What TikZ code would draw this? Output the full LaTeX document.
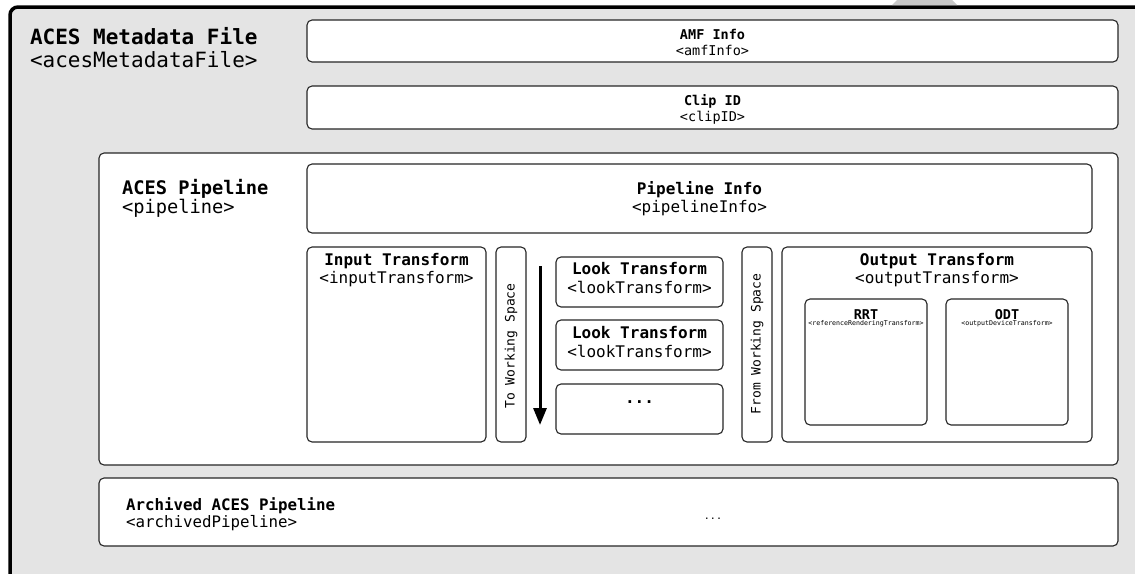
\documentclass[tikz,border=0pt]{standalone}
\usepackage{fontspec}
\setmonofont{DejaVu Sans Mono}
\usetikzlibrary{arrows.meta}
\definecolor{outergray}{HTML}{E4E4E4}
\definecolor{tabgray}{HTML}{C8C8C8}
\newcommand{\fsz}[1]{\fontsize{#1}{#1}\selectfont}
\tikzset{
  box/.style={draw=black!85, line width=1.1pt, fill=white, rounded corners=5pt,
    anchor=north west, inner sep=0pt, outer sep=0pt},
  txt/.style={inner sep=0pt, outer sep=0pt, anchor=base, font=\ttfamily},
  ltxt/.style={txt, anchor=base west},
  vtxt/.style={inner sep=0pt, anchor=center, rotate=90, font=\ttfamily\fsz{13}},
  bigarrow/.style={line width=3pt, -{Triangle[length=17pt,width=13pt]}},
}
\begin{document}
\begin{tikzpicture}[x=1pt,y=-1pt]
\clip (0,0) rectangle (1135,573);
\fill[white] (0,0) rectangle (1135,573);
% outer AMF frame (extends past right and bottom edges)
\draw[fill=outergray, draw=black, line width=3.5pt, rounded corners=8pt] (10,7) rectangle (1160,600);
\fill[tabgray] (892,5) -- (897,0) -- (952,0) -- (957,5) -- cycle;

\node[ltxt, font=\ttfamily\bfseries\fsz{21}] (amftitle) at (30,44) {ACES Metadata File};
\node[ltxt, font=\ttfamily\fsz{21}] (amftag) at (30,67) {<acesMetadataFile>};

% AMF Info
\node[box, minimum width=811pt, minimum height=42pt] (amfinfo) at (307,20) {};
\node[txt, font=\ttfamily\bfseries\fsz{13.5}] (amfinfot) at (712.5,39.5) {AMF Info};
\node[txt, font=\ttfamily\fsz{13.5}] (amfinfos) at (712.5,55) {<amfInfo>};

% Clip ID
\node[box, minimum width=811pt, minimum height=43pt] (clipid) at (307,86) {};
\node[txt, font=\ttfamily\bfseries\fsz{13.5}] (clipidt) at (712.5,105) {Clip ID};
\node[txt, font=\ttfamily\fsz{13.5}] (clipids) at (712.5,121) {<clipID>};

% Pipeline
\node[box, minimum width=1019pt, minimum height=312pt] (pipeline) at (99,153) {};
\node[ltxt, font=\ttfamily\bfseries\fsz{18.7}] (pipet) at (122,194) {ACES Pipeline};
\node[ltxt, font=\ttfamily\fsz{18.7}] (pipes) at (122,213) {<pipeline>};

% Pipeline Info
\node[box, minimum width=785pt, minimum height=69pt] (pinfo) at (307,164) {};
\node[txt, font=\ttfamily\bfseries\fsz{16}] (pinfot) at (699.5,194) {Pipeline Info};
\node[txt, font=\ttfamily\fsz{16}] (pinfos) at (699.5,212) {<pipelineInfo>};

% Input Transform
\node[box, minimum width=179pt, minimum height=195pt] (input) at (307,247) {};
\node[txt, font=\ttfamily\bfseries\fsz{16}] (inputt) at (396.5,265) {Input Transform};
\node[txt, font=\ttfamily\fsz{16}] (inputs) at (396.5,283) {<inputTransform>};

% To Working Space
\node[box, minimum width=30pt, minimum height=195pt] (tows) at (496,247) {};
\node[vtxt] (towst) at (511,346) {To Working Space};

% arrow
\coordinate (arrtop) at (540,266);
\coordinate (arrbot) at (540,425);
\draw[bigarrow] (arrtop) -- (arrbot);

% Look Transforms
\node[box, minimum width=167pt, minimum height=50pt] (look1) at (556,257) {};
\node[txt, font=\ttfamily\bfseries\fsz{16}] (look1t) at (639.5,274) {Look Transform};
\node[txt, font=\ttfamily\fsz{16}] (look1s) at (639.5,293) {<lookTransform>};

\node[box, minimum width=167pt, minimum height=50pt] (look2) at (556,320) {};
\node[txt, font=\ttfamily\bfseries\fsz{16}] (look2t) at (639.5,338) {Look Transform};
\node[txt, font=\ttfamily\fsz{16}] (look2s) at (639.5,357) {<lookTransform>};

\node[box, minimum width=167pt, minimum height=50pt] (look3) at (556,384) {};
\node[txt, font=\ttfamily\bfseries\fsz{16}] (look3t) at (639.5,403) {...};

% From Working Space
\node[box, minimum width=30pt, minimum height=195pt] (fromws) at (742,247) {};
\node[vtxt] (fromwst) at (757,344) {From Working Space};

% Output Transform
\node[box, minimum width=310pt, minimum height=195pt] (output) at (782,247) {};
\node[txt, font=\ttfamily\bfseries\fsz{16}] (outputt) at (937,265.5) {Output Transform};
\node[txt, font=\ttfamily\fsz{16}] (outputs) at (937,283) {<outputTransform>};

\node[box, minimum width=122pt, minimum height=126pt] (rrt) at (805,299) {};
\node[txt, font=\ttfamily\bfseries\fsz{13.5}] (rrtt) at (866,319) {RRT};
\node[txt, font=\ttfamily\fsz{6.6}] (rrts) at (866,325) {<referenceRenderingTransform>};

\node[box, minimum width=122pt, minimum height=126pt] (odt) at (946,299) {};
\node[txt, font=\ttfamily\bfseries\fsz{13.5}] (odtt) at (1007,319) {ODT};
\node[txt, font=\ttfamily\fsz{6.6}] (odts) at (1007,325) {<outputDeviceTransform>};

% Archived pipeline
\node[box, minimum width=1019pt, minimum height=68pt] (archived) at (99,478) {};
\node[ltxt, font=\ttfamily\bfseries\fsz{15.8}] (archt) at (126,510) {Archived ACES Pipeline};
\node[ltxt, font=\ttfamily\fsz{15.8}] (archs) at (126,527) {<archivedPipeline>};
\node[txt, font=\ttfamily\fsz{10}] (archdots) at (713,519) {...};
\end{tikzpicture}
\end{document}
